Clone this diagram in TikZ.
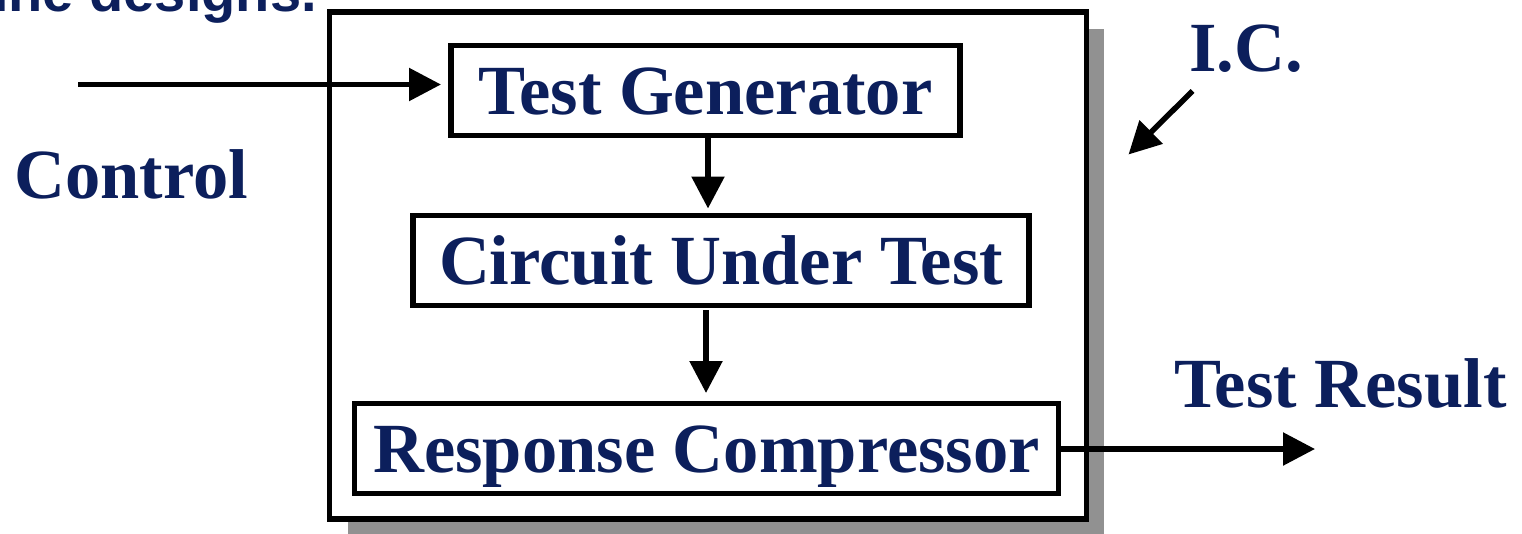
\documentclass[tikz,border=0pt]{standalone}
\usepackage{fontspec}
\setmainfont{Liberation Serif}
\newfontfamily\headsans{Liberation Sans}
\usetikzlibrary{arrows.meta}

\definecolor{navy}{RGB}{12,31,92}
\definecolor{shadowgray}{RGB}{145,145,145}

\tikzset{
  lbl/.style={text=navy, font=\bfseries\fontsize{70.5}{80}\selectfont, inner sep=0pt},
  blk/.style={draw=black, line width=5.5pt, fill=white, inner sep=0pt,
              text height=47pt, text depth=0pt},
  flow/.style={draw=black, line width=5.5pt, -{Triangle[length=32pt,width=32pt]}},
}

\begin{document}
\begin{tikzpicture}[x=1pt, y=-1pt]
  \useasboundingbox (0,0) rectangle (1522,533);
  \clip (0,0) rectangle (1522,533);

  % heading line running off the top of the page
  \node[anchor=base west, inner sep=0pt, text=navy,
        font=\headsans\bfseries\fontsize{56}{64}\selectfont] (head) at (-7,11.5) {ine designs.};

  % chip outline with drop shadow
  \fill[shadowgray] (347.5,29) rectangle (1104.3,536);
  \draw[line width=5.5pt, fill=white] (329.5,12) rectangle (1086.3,519);

  % blocks
  \node[blk, lbl, minimum width=509pt, minimum height=90pt] (tg)  at (705.5,90.5) {Test Generator};
  \node[blk, lbl, minimum width=616pt, minimum height=90pt] (cut) at (721,260.5)  {Circuit Under Test};
  \node[blk, lbl, minimum width=704pt, minimum height=90pt] (rc)  at (706.6,448.5) {Response Compressor};

  % labels
  \node[lbl, anchor=base west] (ctl) at (14,198) {Control};
  \node[lbl, anchor=base west] (ic)  at (1189,71)  {I.C.};
  \node[lbl, anchor=base west] (res) at (1174,407) {Test Result};

  % connectors
  \coordinate (ctlStart) at (78,84.5);
  \coordinate (ctlEnd)   at (441,84.5);
  \draw[flow] (ctlStart) -- (ctlEnd);

  \coordinate (tgOut)  at (708,135.5);
  \coordinate (cutIn)  at (708,208.5);
  \draw[flow] (tgOut) -- (cutIn);

  \coordinate (cutOut) at (706,310);
  \coordinate (rcIn)   at (706,393);
  \draw[flow] (cutOut) -- (rcIn);

  \coordinate (rcOut)  at (1061,449);
  \coordinate (resEnd) at (1315,449);
  \draw[flow] (rcOut) -- (resEnd);

  \coordinate (icStart) at (1192.5,91);
  \coordinate (icEnd)   at (1128.5,154.5);
  \draw[flow] (icStart) -- (icEnd);
\end{tikzpicture}
\end{document}
